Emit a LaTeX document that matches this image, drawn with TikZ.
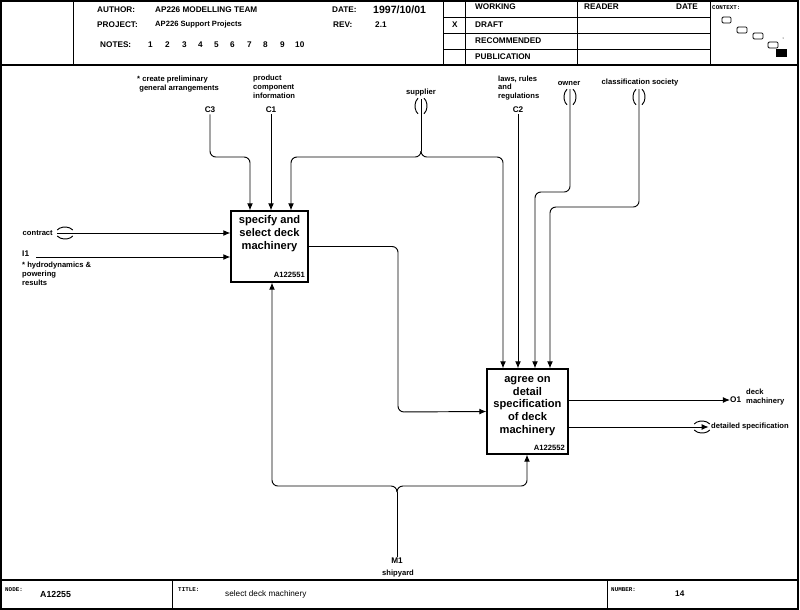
\documentclass[tikz,border=0pt]{standalone}
\usepackage{fontspec}
\setmainfont{Liberation Sans}
\setmonofont{Liberation Mono}
\usetikzlibrary{positioning, arrows.meta, calc}

\tikzset{
	lbl/.style={font=\fontsize{6.5}{7.6}\selectfont\bfseries, inner sep=0pt, align=left},
	code/.style={font=\fontsize{7}{8}\selectfont\bfseries, inner sep=1pt},
	hdr/.style={font=\fontsize{7}{8}\selectfont\bfseries, inner sep=0pt, anchor=west},
	tag/.style={font=\fontsize{5}{6}\selectfont\ttfamily\bfseries, inner sep=0pt, anchor=west},
	act/.style={draw, line width=1.1pt, rectangle, inner sep=0pt},
	acttxt/.style={font=\fontsize{9.5}{11}\selectfont\bfseries, align=center, inner sep=0pt, anchor=north},
	arr/.style={-{Latex[length=6pt,width=5pt]}, line width=0.8pt},
	ln/.style={line width=0.8pt}
}

\begin{document}
\begin{tikzpicture}[x=0.03cm, y=-0.03cm]
	\useasboundingbox (0,0) rectangle (800,610);
	
	%Frame
	\draw[line width=1pt] (1,1) rectangle (798,609);
	\draw[line width=1pt] (1,65) -- (798,65);
	\draw[line width=1pt] (1,580) -- (798,580);
	
	%Header
	\draw (73,1) -- (73,65);
	\draw (443,1) -- (443,65);
	\draw (465,1) -- (465,65);
	\draw (577,1) -- (577,65);
	\draw (710,1) -- (710,65);
	\draw (443,17) -- (710,17);
	\draw (443,33) -- (710,33);
	\draw (443,49) -- (710,49);
	
	\node (author) at (97,10) [hdr]{AUTHOR:};
	\node (authorVal) at (155,10) [hdr]{AP226 MODELLING TEAM};
	\node (project) at (97,25) [hdr]{PROJECT:};
	\node (projectVal) at (155,25) [hdr, font=\fontsize{6.5}{8}\selectfont\bfseries]{AP226 Support Projects};
	\node (date) at (332,10) [hdr]{DATE:};
	\node (dateVal) at (373,10) [hdr, font=\fontsize{9}{10}\selectfont\bfseries]{1997/10/01};
	\node (rev) at (333,25) [hdr]{REV:};
	\node (revVal) at (375,25) [hdr]{2.1};
	\node (notes) at (100,45) [hdr]{NOTES:};
	\foreach \n/\x in {1/148,2/165,3/182,4/198,5/214,6/230,7/247,8/263,9/280,10/295}
		\node (note\n) at (\x,45) [hdr]{\n};
	
	\node (mark) at (452,25) [hdr]{X};
	\node (working) at (475,7) [hdr]{WORKING};
	\node (draft) at (475,25) [hdr]{DRAFT};
	\node (recommended) at (475,41) [hdr]{RECOMMENDED};
	\node (publication) at (475,57) [hdr]{PUBLICATION};
	\node (reader) at (584,7) [hdr]{READER};
	\node (readerDate) at (676,7) [hdr]{DATE};
	
	%Context
	\node (context) at (712,8) [tag]{CONTEXT:};
	\draw[rounded corners=1pt, line width=0.7pt] (722,17) rectangle (731,23);
	\draw[rounded corners=1pt, line width=0.7pt] (737,27) rectangle (747,33);
	\draw[rounded corners=1pt, line width=0.7pt] (753,33) rectangle (763,39);
	\draw[rounded corners=1pt, line width=0.7pt] (768,42) rectangle (778,48);
	\fill (776,49) rectangle (787,57);
	\fill (783,38) circle (0.5);
	
	%Footer
	\draw (172,580) -- (172,609);
	\draw (607,580) -- (607,609);
	\node (nodeTag) at (5,590) [tag]{NODE:};
	\node (nodeVal) at (40,594) [hdr, font=\fontsize{7.5}{9}\selectfont\bfseries]{A12255};
	\node (titleTag) at (178,590) [tag]{TITLE:};
	\node (titleVal) at (225,594) [hdr, font=\fontsize{7}{9}\selectfont]{select deck machinery};
	\node (numberTag) at (611,590) [tag]{NUMBER:};
	\node (numberVal) at (675,594) [hdr]{14};
	
	%Activity boxes
	\node (spec) at (269.5,246.5) [act, minimum width=2.31cm, minimum height=2.13cm]{};
	\node (specTxt) at ([yshift=-4pt]spec.north) [acttxt]{specify and\\select deck\\machinery};
	\node (specNum) [lbl, above left=4pt and 3pt of spec.south east]{A122551};
	
	\node (agree) at (527.5,411.5) [act, minimum width=2.43cm, minimum height=2.55cm]{};
	\node (agreeTxt) at ([yshift=-6.5pt]agree.north) [acttxt]{agree on\\detail\\specification\\of deck\\machinery};
	\node (agreeNum) [lbl, above left=3pt and 3pt of agree.south east]{A122552};
	
	%Inputs
	\node (contract) at (53,233) [lbl, anchor=east]{contract};
	\coordinate (contractT) at (57,233);
	\draw[arr] (contractT) -- (contractT -| spec.west);
	\draw[ln] (65,233) ++(210:9 and 6) arc[start angle=210, end angle=330, x radius=9, y radius=6];
	\draw[ln] (65,233) ++(30:9 and 6) arc[start angle=30, end angle=150, x radius=9, y radius=6];
	
	\node (i1) at (22,254) [code, anchor=west, inner sep=0pt]{I1};
	\node (i1Txt) at (22,274) [lbl, anchor=west]{* hydrodynamics \&\\powering\\results};
	\coordinate (i1T) at (36,257);
	\draw[arr] (i1T) -- (i1T -| spec.west);
	
	%Controls
	\node (c3Txt) at (137,84) [lbl, anchor=west]{* create preliminary\\\ general arrangements};
	\node (c3) at (210,110) [code]{C3};
	\draw[arr, rounded corners=5pt] (c3.south) |- (250,157) -- (250,0 |- spec.north);
	
	\node (c1Txt) at (253,87) [lbl, anchor=west]{product\\component\\information};
	\node (c1) at (271,110) [code]{C1};
	\draw[arr] (c1.south) -- (c1.south |- spec.north);
	
	\node (c2Txt) at (498,88) [lbl, anchor=west]{laws, rules\\and\\regulations};
	\node (c2) at (518,110) [code]{C2};
	\draw[arr] (c2.south) -- (c2.south |- agree.north);
	
	%Supplier
	\node (supplier) at (421,93) [lbl]{supplier};
	\coordinate (supT) at (421,99);
	\coordinate (supJ) at (421,151);
	\draw[ln] (421,106) ++(120:6 and 9) arc[start angle=120, end angle=240, x radius=6, y radius=9];
	\draw[ln] (421,106) ++(-60:6 and 9) arc[start angle=-60, end angle=60, x radius=6, y radius=9];
	\draw[ln] (supT) -- (supJ);
	\draw[arr, rounded corners=5pt] (supJ) |- (291,157) -- (291,0 |- spec.north);
	\draw[arr, rounded corners=5pt] (supJ) |- (503,157) -- (503,0 |- agree.north);
	
	%Owner
	\node (owner) at (569,83) [lbl]{owner};
	\coordinate (ownT) at (570,89);
	\draw[ln] (570,97) ++(120:6 and 9) arc[start angle=120, end angle=240, x radius=6, y radius=9];
	\draw[ln] (570,97) ++(-60:6 and 9) arc[start angle=-60, end angle=60, x radius=6, y radius=9];
	\draw[arr, rounded corners=5pt] (ownT) |- (535,192) -- (535,0 |- agree.north);
	
	%Classification society
	\node (classSoc) at (640,83) [lbl]{classification society};
	\coordinate (clsT) at (639,89);
	\draw[ln] (639,97) ++(120:6 and 9) arc[start angle=120, end angle=240, x radius=6, y radius=9];
	\draw[ln] (639,97) ++(-60:6 and 9) arc[start angle=-60, end angle=60, x radius=6, y radius=9];
	\draw[arr, rounded corners=5pt] (clsT) |- (550,207) -- (550,0 |- agree.north);
	
	%Link between activities
	\draw[arr, rounded corners=5pt] (spec.east) -| (398,412) -- (agree.west);
	
	%Outputs
	\node (o1) at (730,400) [code, anchor=west, inner sep=0pt]{O1};
	\node (o1Txt) at (746,397) [lbl, anchor=west]{deck\\machinery};
	\draw[arr] (agree.east |- o1) -- (o1.west);
	
	\node (detail) at (711,427) [lbl, anchor=west]{detailed specification};
	\draw[arr, shorten >=2pt] (agree.east |- detail) -- (detail.west);
	\draw[ln] (702,427) ++(210:9 and 6) arc[start angle=210, end angle=330, x radius=9, y radius=6];
	\draw[ln] (702,427) ++(30:9 and 6) arc[start angle=30, end angle=150, x radius=9, y radius=6];
	
	%Mechanism
	\node (m1) at (397,561) [code]{M1};
	\node (shipyard) at (398,574) [lbl]{shipyard};
	\coordinate (mJ) at (397,492);
	\draw[ln] (m1.north) -- (mJ);
	\draw[arr, rounded corners=5pt] (mJ) |- (272,486) -- (272,0 |- spec.south);
	\draw[arr, rounded corners=5pt] (mJ) |- (527,486) -- (527,0 |- agree.south);
	
\end{tikzpicture}
\end{document}
